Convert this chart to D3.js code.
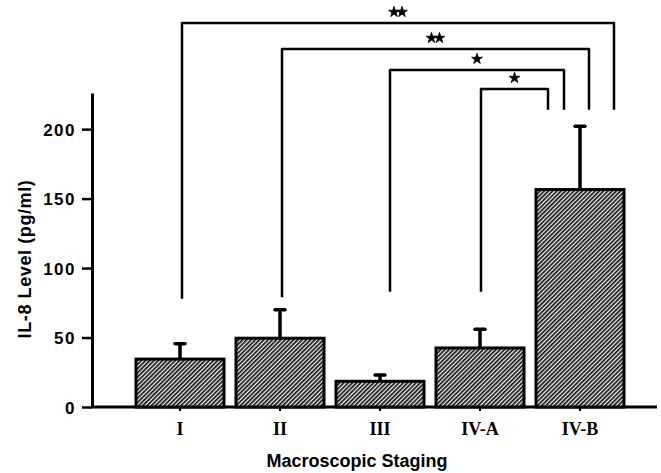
<!DOCTYPE html>
<meta charset="utf-8">
<style>
  body { margin: 0; background: #fff; }
  svg { display: block; }
  .ytick text { font-family: "Liberation Sans", Arial, sans-serif; font-weight: bold; font-size: 17px; letter-spacing: 1.5px; }
  .xtick text { font-family: "Liberation Serif", "Times New Roman", serif; font-weight: bold; font-size: 18px; }
  .title { font-family: "Liberation Sans", Arial, sans-serif; font-weight: bold; font-size: 18px; }
</style>
<script src="https://d3js.org/d3.v7.min.js"></script>
<div id="chart"></div>
<script>

// data
var stages = ["I", "II", "III", "IV-A", "IV-B"];
var means = [34.5, 49.5, 18.5, 42.5, 156.5];
var upperErr = [11, 20.5, 4.5, 13.5, 45.5];
var yTicks = [0, 50, 100, 150, 200];
var comparisons = [
  ["I", "IV-B", "**"],
  ["II", "IV-B", "**"],
  ["III", "IV-B", "*"],
  ["IV-A", "IV-B", "*"]
];

var width = 661, height = 473;

var svg = d3.select("#chart")
  .append("svg")
    .attr("width", width)
    .attr("height", height);

// hatch fill for the bars
var pat = svg.append("defs").append("pattern")
    .attr("id", "hatch")
    .attr("patternUnits", "userSpaceOnUse")
    .attr("width", 3)
    .attr("height", 3)
    .attr("patternTransform", "rotate(45)");
pat.append("rect").attr("width", 3).attr("height", 3).attr("fill", "#f4f4f4");
pat.append("rect").attr("width", 1.7).attr("height", 3).attr("fill", "#111");

var x = d3.scaleBand()
    .domain(stages)
    .range([130, 630])
    .paddingInner(0.12)
    .paddingOuter(0.06);

var y = d3.scaleLinear()
    .domain([0, 226])
    .range([407, 93]);

// y axis
var yAxis = svg.append("g")
    .attr("class", "ytick")
    .attr("transform", "translate(92,0)")
    .call(d3.axisLeft(y).tickValues(yTicks).tickSize(10).tickSizeOuter(0).tickPadding(6));
yAxis.select(".domain").attr("stroke-width", 3).attr("stroke", "#000");
yAxis.selectAll(".tick line").attr("stroke-width", 2.5).attr("stroke", "#000");
yAxis.selectAll(".tick text").attr("fill", "#000").attr("dy", "0.36em");

// x baseline
svg.append("line")
    .attr("x1", 91).attr("x2", 657)
    .attr("y1", y(0)).attr("y2", y(0))
    .attr("stroke", "#000").attr("stroke-width", 3);

var xAxis = svg.append("g")
    .attr("class", "xtick")
    .attr("transform", "translate(0," + y(0) + ")")
    .call(d3.axisBottom(x).tickSize(4).tickSizeOuter(0).tickPadding(11));
xAxis.select(".domain").remove();
xAxis.selectAll(".tick line").attr("stroke", "#000").attr("stroke-width", 2);
xAxis.selectAll(".tick text").attr("fill", "#000");

// bars
svg.selectAll(".bar")
  .data(stages)
  .enter()
  .append("rect")
    .attr("class", "bar")
    .attr("x", function(d) { return x(d); })
    .attr("width", x.bandwidth())
    .attr("y", function(d, i) { return y(means[i]); })
    .attr("height", function(d, i) { return y(0) - y(means[i]); })
    .attr("fill", "url(#hatch)")
    .attr("stroke", "#000")
    .attr("stroke-width", 3);

// error bars (upper only)
var eb = svg.selectAll(".err")
  .data(stages)
  .enter()
  .append("g")
    .attr("class", "err");
eb.append("line")
    .attr("x1", function(d) { return x(d) + x.bandwidth() / 2; })
    .attr("x2", function(d) { return x(d) + x.bandwidth() / 2; })
    .attr("y1", function(d, i) { return y(means[i]); })
    .attr("y2", function(d, i) { return y(means[i] + upperErr[i]); })
    .attr("stroke", "#000").attr("stroke-width", 3.5);
eb.append("line")
    .attr("x1", function(d) { return x(d) + x.bandwidth() / 2 - 5; })
    .attr("x2", function(d) { return x(d) + x.bandwidth() / 2 + 5; })
    .attr("y1", function(d, i) { return y(means[i] + upperErr[i]); })
    .attr("y2", function(d, i) { return y(means[i] + upperErr[i]); })
    .attr("stroke", "#000").attr("stroke-width", 3.5)
    .attr("stroke-linecap", "round");

// significance brackets
var tierY = [23, 49, 70, 89];
var leftShift = [2, 2, 10, 1];
var rightOffset = [78, 53, 28, 12];
var leftBottom = [y(78), y(79), y(83), y(83)];
var rightBottom = y(214);

comparisons.forEach(function(c, i) {
  var x1 = x(c[0]) + x.bandwidth() / 2 + leftShift[i];
  var x2 = x(c[1]) + rightOffset[i];
  var top = tierY[i];
  svg.append("path")
      .attr("d", "M" + x1 + "," + leftBottom[i] + "V" + top + "H" + x2 + "V" + rightBottom)
      .attr("fill", "none")
      .attr("stroke", "#000")
      .attr("stroke-width", 2.5)
      .attr("stroke-linejoin", "round");
  var n = c[2].length;
  var cx = (x1 + x2) / 2;
  for (var k = 0; k < n; k++) {
    svg.append("path")
        .attr("d", d3.symbol().type(d3.symbolStar).size(36)())
        .attr("transform", "translate(" + (cx + (k - (n - 1) / 2) * 8) + "," + (top - 11) + ")")
        .attr("fill", "#000")
        .attr("stroke", "#000")
        .attr("stroke-width", 0.8);
  }
});

// axis titles
svg.append("text")
    .attr("class", "title")
    .attr("x", 357)
    .attr("y", 467)
    .attr("text-anchor", "middle")
    .text("Macroscopic Staging");

svg.append("text")
    .attr("class", "title")
    .attr("transform", "translate(31,259) rotate(-90)")
    .attr("text-anchor", "middle")
    .style("font-size", "18px")
    .style("letter-spacing", "0.6px")
    .text("IL-8 Level (pg/ml)");

</script>
